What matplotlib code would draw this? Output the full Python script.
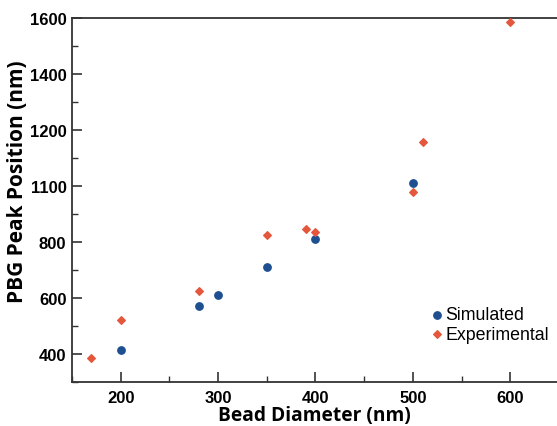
import numpy as np
import matplotlib.pyplot as plt
from matplotlib.ticker import MultipleLocator

# values (y in axis units; the "1100" label sits at 1000)
sim_x = [200, 280, 300, 350, 400, 500]
sim_y = [414, 570, 610, 710, 811, 1012]
exp_x = [170, 200, 280, 350, 390, 400, 500, 510, 600]
exp_y = [385, 520, 626, 826, 845, 837, 980, 1156, 1587]

yticks = [400, 600, 800, 1000, 1200, 1400, 1600]
ytick_labels = ['400', '600', '800', '1100', '1200', '1400', '1600']
xticks = [200, 300, 400, 500, 600]

plt.rcParams['font.family'] = ['Liberation Sans', 'DejaVu Sans']

fig = plt.figure(figsize=(5.57, 4.27), dpi=100)
ax = fig.add_axes([72 / 557, 44 / 427, 1 - 72 / 557, 364 / 427])

ax.scatter(sim_x, sim_y, s=28, marker='o', color='#1d4f91', label='Simulated', zorder=3)
ax.scatter(exp_x, exp_y, s=15, marker='D', color='#e4573d', label='Experimental', zorder=3)

ax.set_xlim(150, 648)
ax.set_ylim(300, 1600)
ax.set_xticks(xticks)
ax.set_yticks(yticks)
ax.set_yticklabels(ytick_labels)
ax.xaxis.set_minor_locator(MultipleLocator(50))
ax.yaxis.set_minor_locator(MultipleLocator(100))

for lab in ax.get_xticklabels() + ax.get_yticklabels():
    lab.set_fontweight('bold')
    lab.set_fontsize(12)

ax.tick_params(which='major', direction='in', length=7, width=1.2, color='#333333', pad=6)
ax.tick_params(axis='y', which='major', pad=4)
ax.tick_params(which='minor', direction='in', length=4, width=1.0, color='#333333')
ax.tick_params(top=False, right=False, which='both')

ax.spines['right'].set_visible(False)
for s in ['left', 'bottom', 'top']:
    ax.spines[s].set_linewidth(1.3)
    ax.spines[s].set_color('#333333')

ax.set_xlabel('Bead Diameter (nm)', fontsize=13.8, fontweight='bold', family='Open Sans', labelpad=0)
ax.set_ylabel('PBG Peak Position (nm)', fontsize=15, fontweight='bold', family='Open Sans', labelpad=0)
ax.yaxis.set_label_coords(-0.09, 0.552)

ax.legend(loc='lower left', bbox_to_anchor=(0.722, 0.088), frameon=False, fontsize=12.8,
          handletextpad=0.0, borderaxespad=0.0, labelspacing=0.15, markerscale=1.0,
          handlelength=0.9)

fig.savefig('out.png', dpi=100)
